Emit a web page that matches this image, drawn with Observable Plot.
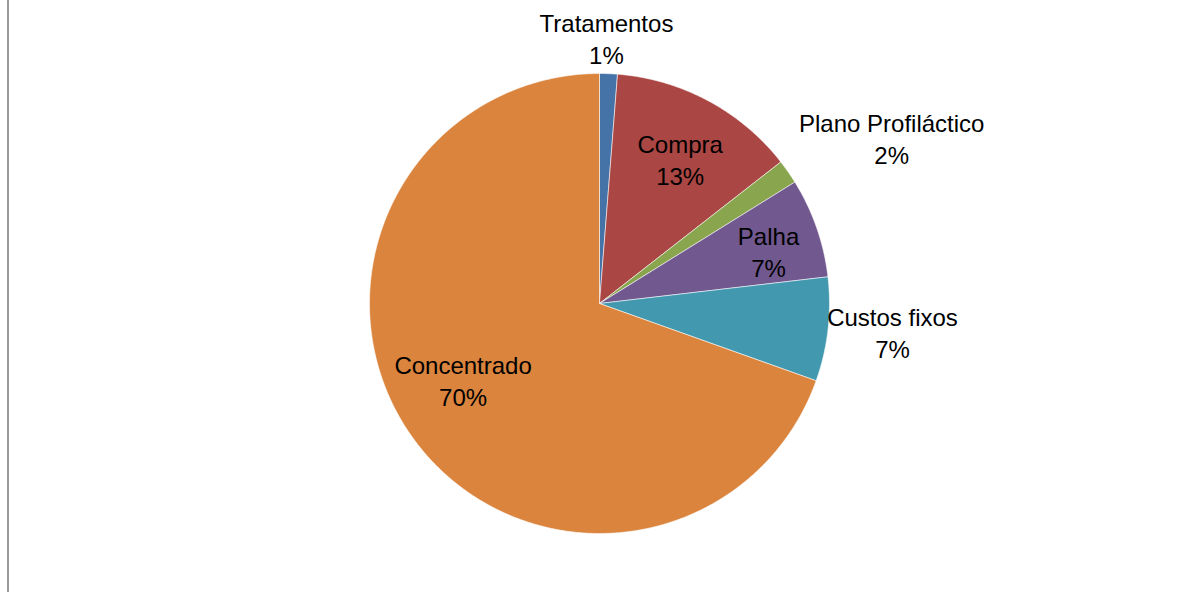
<!DOCTYPE html>
<html>
<head>
<meta charset="utf-8">
<script src="https://cdn.jsdelivr.net/npm/d3@7"></script>
<script src="https://cdn.jsdelivr.net/npm/@observablehq/plot@0.6"></script>
<style>
  html, body { margin: 0; padding: 0; background: #ffffff; }
  #wrap { position: relative; width: 1177px; height: 592px; overflow: hidden; }
  #frame { position: absolute; left: 7px; top: 0; width: 2px; height: 592px; background: #9a9a9a; }
</style>
</head>
<body>
<div id="wrap"><div id="frame"></div></div>
<script>
// ---- data ----
const categories = ["Tratamentos", "Compra", "Plano Profiláctico", "Palha", "Custos fixos", "Concentrado"];
const values = [1.25, 13.2, 1.7, 7.0, 7.3, 69.55];
const colors = ["#4572A7", "#AA4643", "#89A54E", "#71588F", "#4198AF", "#DB843D"];

// ---- label layout (radius as fraction of pie radius, angle nudge in degrees) ----
const labelRadius = [1.155, 0.72, 1.46, 0.77, 1.28, 0.68];
const labelAngleShift = [-0.75, 0.9, 5.4, 1.9, -0.9, 5.9];

const total = d3.sum(values);
const arcs = d3.pie().sort(null).value(d => d)(values);

// polygon outlines of each slice in unit-circle data space
const slicePts = [];
arcs.forEach((a, i) => {
  const name = categories[i];
  slicePts.push({name, x: 0, y: 0});
  const n = Math.max(2, Math.ceil((a.endAngle - a.startAngle) / (Math.PI / 360)));
  for (let k = 0; k <= n; k++) {
    const t = a.startAngle + (a.endAngle - a.startAngle) * k / n;
    slicePts.push({name, x: Math.sin(t), y: Math.cos(t)});
  }
  slicePts.push({name, x: 0, y: 0});
});

const labels = arcs.map((a, i) => {
  const mid = (a.startAngle + a.endAngle) / 2 + labelAngleShift[i] * Math.PI / 180;
  const r = labelRadius[i];
  return {
    name: categories[i],
    x: Math.sin(mid) * r,
    y: Math.cos(mid) * r,
    text: categories[i] + "\n" + Math.round(values[i] / total * 100) + "%"
  };
});

const chart = Plot.plot({
  width: 1177,
  height: 592,
  margin: 0,
  style: {background: "transparent", fontFamily: "'Liberation Sans', Arial, sans-serif"},
  x: {domain: [-1, 1], range: [369, 829], axis: null},
  y: {domain: [-1, 1], range: [533, 73], axis: null},
  color: {domain: categories, range: colors},
  marks: [
    Plot.line(slicePts, {x: "x", y: "y", z: "name", fill: "name", stroke: "#ffffff", strokeWidth: 0.8, strokeOpacity: 0.7, curve: "linear"}),
    Plot.text(labels, {x: "x", y: "y", text: "text", fill: "#000000", fontSize: 24, lineHeight: 1.34, textAnchor: "middle"})
  ]
});
chart.style.position = "absolute";
chart.style.left = "0px";
chart.style.top = "0px";
document.getElementById("wrap").appendChild(chart);
</script>
</body>
</html>
